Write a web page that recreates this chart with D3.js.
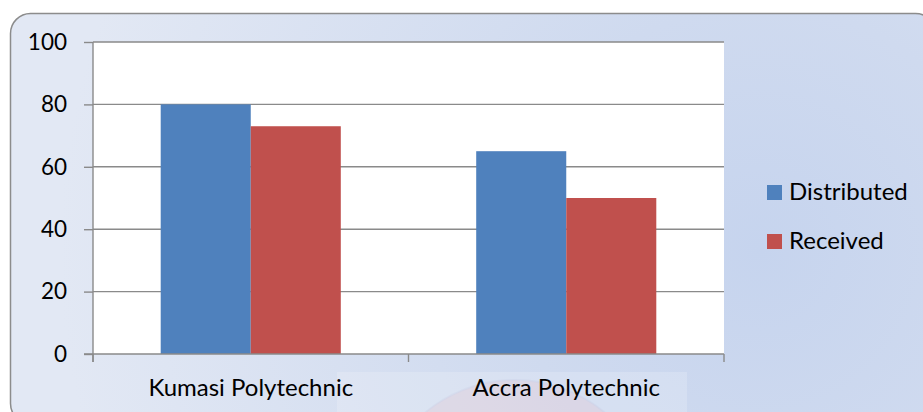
<!DOCTYPE html>
<html>
<head>
<meta charset="utf-8">
<script src="https://cdn.jsdelivr.net/npm/d3@7"></script>
<style>
  html, body { margin: 0; padding: 0; background: #ffffff; }
  svg { display: block; }
  text { font-family: Lato, "Open Sans", sans-serif; fill: #000; }
</style>
</head>
<body>
<div id="chart"></div>
<script>
const categories = ["Kumasi Polytechnic", "Accra Polytechnic"];
const seriesNames = ["Distributed", "Received"];
const distributed = [80, 65];
const received = [73, 50];
const yTicks = [0, 20, 40, 60, 80, 100];
const seriesColors = ["#4f81bd", "#c0504d"];

const W = 923, H = 412;
const plot = { left: 93, right: 724, top: 42, bottom: 354 };

const svg = d3.select("#chart").append("svg")
  .attr("width", W).attr("height", H);

const defs = svg.append("defs");
const grad = defs.append("radialGradient")
  .attr("id", "bg").attr("gradientUnits", "userSpaceOnUse")
  .attr("cx", 760).attr("cy", 250).attr("r", 700);
grad.append("stop").attr("offset", 0).attr("stop-color", "#c6d4ee");
grad.append("stop").attr("offset", 0.35).attr("stop-color", "#cfdaef");
grad.append("stop").attr("offset", 1).attr("stop-color", "#e2e8f4");

// chart frame
svg.append("rect")
  .attr("x", 10.5).attr("y", 13.5)
  .attr("width", 925).attr("height", 410)
  .attr("rx", 20).attr("ry", 20)
  .attr("fill", "url(#bg)")
  .attr("stroke", "#8c8c8c").attr("stroke-width", 1.5);

// faint document background showing through at the bottom
svg.append("rect")
  .attr("x", 337).attr("y", 372).attr("width", 350).attr("height", 45)
  .attr("fill", "#ffffff").attr("opacity", 0.18);
svg.append("circle")
  .attr("cx", 515).attr("cy", 520).attr("r", 140)
  .attr("fill", "#e8b7c0").attr("opacity", 0.22)
  .attr("stroke", "#9a9ac8").attr("stroke-opacity", 0.4).attr("stroke-width", 2);

// plot area
svg.append("rect")
  .attr("x", plot.left).attr("y", plot.top)
  .attr("width", plot.right - plot.left).attr("height", plot.bottom - plot.top)
  .attr("fill", "#ffffff");

const x0 = d3.scaleBand().domain(categories).range([plot.left, plot.right]).padding(0);
const bw = x0.bandwidth();
const x1 = d3.scaleBand().domain(seriesNames).range([bw * 0.2146, bw * 0.7854]).padding(0);
const y = d3.scaleLinear().domain([0, 100]).range([plot.bottom, plot.top]);

// gridlines
svg.append("g").selectAll("line").data(yTicks.filter(d => d > 0)).join("line")
  .attr("x1", plot.left).attr("x2", plot.right)
  .attr("y1", d => y(d)).attr("y2", d => y(d))
  .attr("stroke", "#8a8a8a").attr("stroke-width", 1.4);

// bars
const series = [distributed, received];
const groups = svg.append("g").selectAll("g").data(categories).join("g")
  .attr("transform", d => `translate(${x0(d)},0)`);
groups.selectAll("rect")
  .data((c, i) => seriesNames.map((s, j) => ({ s, v: series[j][i], j })))
  .join("rect")
  .attr("x", d => x1(d.s))
  .attr("y", d => y(d.v))
  .attr("width", x1.bandwidth())
  .attr("height", d => y(0) - y(d.v))
  .attr("fill", d => seriesColors[d.j]);

// y axis
const yAxis = d3.axisLeft(y).tickValues(yTicks).tickSize(9).tickPadding(17).tickFormat(d3.format("d"));
const gy = svg.append("g").attr("transform", `translate(${plot.left},0)`).call(yAxis);
gy.select(".domain").attr("stroke", "#8a8a8a").attr("stroke-width", 1.4)
  .attr("d", `M0,${plot.top}V${plot.bottom + 8}`);
gy.selectAll(".tick line").attr("stroke", "#8a8a8a").attr("stroke-width", 1.4);
gy.selectAll(".tick text")
  .style("font-family", "Lato, 'Open Sans', sans-serif")
  .style("font-size", "22.5px").attr("fill", "#000");

// x axis
const xAxis = d3.axisBottom(x0).tickSize(0).tickPadding(0);
const gx = svg.append("g").attr("transform", `translate(0,${plot.bottom})`).call(xAxis);
gx.select(".domain").attr("stroke", "#8a8a8a").attr("stroke-width", 1.4)
  .attr("d", `M${plot.left - 9},0H${plot.right}`);
gx.selectAll(".tick text")
  .attr("y", 42).attr("dy", 0)
  .style("font-family", "Lato, 'Open Sans', sans-serif")
  .style("font-size", "24px").attr("fill", "#000");
// category separators
const sep = [plot.left, ...categories.map(c => x0(c) + bw)];
gx.selectAll("line.sep").data(sep).join("line").attr("class", "sep")
  .attr("x1", d => d).attr("x2", d => d).attr("y1", 0).attr("y2", 8)
  .attr("stroke", "#8a8a8a").attr("stroke-width", 1.4);

// legend
const legend = svg.append("g").attr("transform", "translate(767,185)");
const li = legend.selectAll("g").data(seriesNames).join("g")
  .attr("transform", (d, i) => `translate(0,${i * 49})`);
li.append("rect").attr("width", 15).attr("height", 15)
  .attr("fill", (d, i) => seriesColors[i]);
li.append("text").attr("x", 22).attr("y", 15)
  .style("font-size", "24px").text(d => d);
</script>
</body>
</html>
